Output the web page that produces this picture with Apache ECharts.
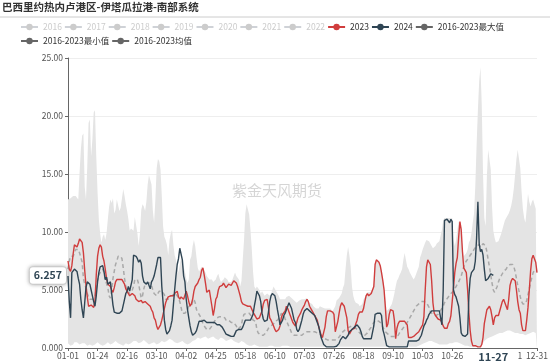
<!DOCTYPE html>
<html><head><meta charset="utf-8">
<script src="https://cdn.jsdelivr.net/npm/echarts@6/dist/echarts.min.js"></script>
<style>html,body{margin:0;padding:0;background:#fff}#c{width:550px;height:364px}</style>
</head><body><div id="c"></div>
<script>
// ---- data ----
const titleText = '巴西里约热内卢港区-伊塔瓜拉港-南部系统';
const watermarkText = '紫金天风期货';
const hiddenYears = ['2016','2017','2018','2019','2020','2021','2022'];
const name2023 = '2023', name2024 = '2024';
const nameMax = '2016-2023最大值', nameMin = '2016-2023最小值', nameMean = '2016-2023均值';
const latestDate = '11-27';
const yTicks = [0, 5, 10, 15, 20, 25];

const categories = [];
for (let i = 0; i < 366; i++) {
  const d = new Date(Date.UTC(2024, 0, 1 + i));
  categories.push(String(d.getUTCMonth() + 1).padStart(2, '0') + '-' + String(d.getUTCDate()).padStart(2, '0'));
}

const values2023 = [
7.5,6.8,6.6,7.1,8.1,8.9,8.9,8.7,9.0,9.4,
9.4,9.1,8.2,6.7,5.4,4.4,3.6,3.5,3.7,3.8,
3.5,4.1,6.3,7.9,8.6,8.9,8.7,7.9,7.5,6.8,
6.0,5.5,5.4,5.3,5.0,4.8,5.2,5.7,5.9,6.0,
5.9,5.9,5.9,5.7,5.5,5.1,4.9,4.7,4.5,4.5,
4.7,4.8,4.5,4.2,4.1,4.0,4.0,4.1,3.9,3.9,
4.0,3.9,3.8,3.7,3.6,3.3,3.1,2.6,2.4,1.9,
1.6,1.7,2.0,2.4,2.9,3.4,3.9,4.2,4.4,4.5,
4.5,4.6,4.5,4.7,4.8,4.9,4.4,4.2,4.4,4.3,
4.2,4.2,4.9,4.5,4.0,3.6,3.8,4.2,4.9,5.3,
5.3,5.6,5.9,6.1,6.7,6.9,6.3,5.6,4.8,4.9,
5.0,5.1,3.6,2.8,3.4,4.2,4.4,5.0,5.3,5.3,
5.4,5.6,5.5,5.2,5.1,5.5,5.5,5.4,5.5,5.8,
5.9,5.6,5.3,4.9,4.5,4.0,3.8,3.7,3.7,3.7,
3.6,3.6,3.6,3.5,3.1,2.9,2.7,2.5,2.5,2.6,
2.9,3.2,3.8,4.1,4.2,4.2,3.5,2.6,2.4,2.4,
1.9,1.6,1.4,1.3,1.6,1.9,2.6,2.9,3.0,3.2,
3.6,3.4,3.1,2.8,2.5,2.2,2.1,1.9,2.2,2.6,
2.8,3.0,3.3,3.5,3.7,4.0,4.2,4.0,3.6,3.4,
3.2,3.0,2.8,2.6,2.4,1.9,1.5,1.1,0.9,0.9,
1.8,2.7,3.2,3.2,3.2,3.2,3.1,2.9,1.4,1.3,
2.3,3.0,3.6,3.9,3.9,3.6,3.1,2.6,1.5,1.2,
1.3,1.6,1.6,1.7,2.1,2.4,2.9,3.1,3.2,3.1,
3.4,4.0,4.5,4.7,4.5,4.6,4.7,4.8,5.3,7.2,
7.6,7.5,7.4,7.1,6.5,5.8,5.0,3.5,1.8,2.1,
2.9,3.3,3.3,3.2,2.4,0.8,1.7,2.1,2.3,2.3,
2.3,2.3,2.3,2.2,2.0,0.9,0.9,0.9,0.9,1.0,
1.1,1.2,1.3,1.4,1.6,1.7,2.0,2.7,5.0,7.0,
7.6,7.5,7.2,5.8,3.9,3.0,2.8,2.7,2.5,2.4,
2.4,2.2,1.9,1.7,1.6,1.7,2.1,2.3,2.8,4.0,
5.2,6.5,7.3,7.8,9.5,10.9,10.2,8.3,6.9,7.0,
6.5,5.0,3.0,1.5,0.6,0.2,0.1,0.2,0.1,0.1,
0.2,0.1,0.3,0.9,2.1,2.7,3.3,3.4,3.6,3.3,
2.7,2.0,2.6,2.8,2.7,2.8,2.9,3.6,4.0,4.2,
4.1,3.6,3.3,4.2,5.4,5.8,6.0,6.1,5.8,5.0,
4.0,3.3,3.0,2.0,1.5,1.4,1.5,2.4,3.5,5.0,
6.6,7.7,8.0,7.9,7.4,6.5
];

const values2024 = [
6.2,4.0,2.6,6.5,6.5,6.8,6.9,6.6,6.0,5.5,
4.2,3.3,2.6,3.9,5.2,5.7,5.7,5.5,5.0,4.5,
4.0,3.6,4.5,5.7,6.5,7.0,7.0,7.1,6.6,5.9,
6.1,5.5,5.5,5.7,5.6,3.7,3.1,3.0,3.0,3.0,
3.0,3.0,3.2,3.3,4.2,4.7,4.9,5.3,4.9,5.0,
5.9,8.0,8.0,7.9,7.7,7.4,7.6,7.3,6.2,5.7,
5.7,5.5,5.7,5.6,5.1,5.7,5.9,6.2,6.7,7.2,
7.8,7.9,7.8,5.3,3.9,2.4,1.6,1.2,1.3,1.5,
1.9,2.4,3.7,5.0,6.2,7.2,7.7,8.6,8.5,7.6,
6.2,5.7,4.2,3.3,2.6,1.9,1.4,1.1,1.1,1.3,
1.5,1.9,2.3,2.3,2.3,2.3,2.4,2.4,2.2,2.3,
2.2,2.2,2.2,2.2,2.2,2.1,2.0,2.0,2.0,1.9,
1.8,1.6,1.4,1.2,1.2,1.1,1.0,1.0,1.0,1.0,
1.1,1.5,1.6,1.6,1.6,1.6,1.8,1.9,2.4,2.4,
2.4,2.4,2.4,2.4,2.9,3.6,4.2,4.9,4.7,4.5,
4.0,3.0,2.5,2.3,2.4,2.4,3.1,4.0,4.5,4.7,
4.7,4.5,4.0,3.3,2.7,2.0,2.1,2.4,2.8,3.0,
3.3,3.6,3.9,4.0,3.4,2.9,2.4,2.2,1.6,1.4,
1.6,2.0,2.4,2.9,3.2,3.3,3.4,3.4,3.2,3.1,
3.0,3.0,2.8,2.5,2.2,1.9,1.4,0.9,0.6,0.3,
0.15,0.1,0.1,0.1,0.1,0.1,0.1,0.1,0.1,0.15,
0.2,0.4,0.7,0.8,1.0,0.9,0.8,0.7,1.1,1.4,
1.5,1.6,1.6,1.8,1.9,2.0,1.9,1.7,1.4,1.0,
0.8,0.8,0.8,0.8,0.8,0.8,0.8,0.9,1.9,2.9,
3.0,3.0,3.0,3.0,2.8,1.6,1.2,0.7,0.2,0.1,
0.1,0.1,0.1,0.1,0.1,0.1,0.1,0.1,0.1,0.1,
0.1,0.1,0.1,0.1,0.1,0.6,0.6,0.6,0.6,0.6,
0.6,0.6,0.6,0.7,0.8,1.1,1.5,1.9,2.1,2.4,
2.6,2.9,3.0,3.2,3.2,3.2,3.2,3.2,3.2,3.2,
3.2,2.0,5.0,11.0,11.1,11.1,11.1,10.8,11.1,10.9,
5.0,4.6,4.4,4.0,3.6,2.6,1.3,1.1,1.1,1.0,
1.0,1.2,4.5,6.0,6.5,6.4,6.8,7.5,9.5,12.6,
9.0,8.3,8.5,8.0,6.8,5.8,5.9,6.0,6.2,6.4,
6.3,6.257
];

const valuesMax = [
12.8,12.9,12.9,13.0,13.1,13.1,13.1,13.0,12.8,15.1,
17.1,18.3,18.5,13.9,12.8,15.7,19.4,19.7,16.5,18.0,
20.3,20.5,16.5,13.4,11.1,9.9,9.1,9.6,9.8,9.3,
9.9,11.1,12.2,12.8,12.5,12.9,11.6,11.9,12.8,12.3,
11.8,12.1,12.9,13.7,13.1,12.4,11.8,11.1,10.1,10.3,
10.3,10.1,11.3,11.2,9.9,8.8,9.9,11.9,12.4,12.2,
11.8,12.6,14.1,14.9,15.0,14.1,11.9,10.8,12.8,15.5,
16.3,16.1,15.4,13.1,10.5,9.6,9.3,8.9,8.0,9.3,
9.9,10.2,8.9,8.0,7.6,7.0,6.5,7.2,7.8,7.3,
7.0,6.6,6.0,5.6,5.9,7.6,7.9,8.8,9.3,8.8,
7.8,6.9,6.6,6.5,7.0,7.0,6.7,6.5,6.2,6.2,
5.9,5.9,5.9,5.7,5.8,5.9,6.2,6.4,6.0,5.7,
5.7,5.9,6.1,6.0,5.9,5.7,5.6,5.7,5.9,6.2,
6.5,6.2,6.1,5.9,5.3,5.8,7.6,9.3,11.6,12.4,
12.4,11.5,10.2,8.6,6.6,5.3,5.1,5.3,5.3,5.0,
4.7,4.9,4.7,4.5,4.5,4.7,4.6,4.5,4.7,5.0,
5.3,5.2,4.9,4.7,4.5,4.2,4.2,4.2,4.2,4.2,
4.4,4.5,4.5,4.5,4.3,4.2,4.1,4.0,3.9,4.0,
4.1,4.2,4.2,4.2,4.2,4.2,4.3,4.2,3.9,3.9,
3.8,3.6,3.5,3.4,3.3,3.4,3.6,3.5,3.5,3.4,
3.4,3.4,3.4,3.4,3.4,3.4,3.2,3.2,3.6,4.1,
4.2,4.3,4.5,4.7,5.2,5.5,6.8,8.0,8.7,8.0,
7.0,5.3,4.5,4.1,3.9,3.9,3.8,3.6,3.6,3.8,
4.2,4.3,4.6,4.8,4.8,4.8,4.9,5.0,5.5,7.3,
7.6,7.6,7.5,7.1,6.6,5.9,5.3,4.2,3.2,3.2,
3.4,3.6,3.8,4.2,4.7,5.3,5.8,6.0,6.3,6.5,
6.8,7.6,8.2,8.2,7.0,6.8,6.5,6.4,6.1,5.9,
6.1,6.4,6.5,7.0,7.8,8.1,8.5,8.8,9.1,9.3,
9.3,9.2,9.1,8.8,8.6,8.5,8.8,9.0,9.1,9.2,
9.3,10.2,11.0,11.2,11.2,11.2,11.2,11.2,11.2,11.2,
9.3,8.8,9.3,10.1,10.9,11.0,10.4,8.6,7.9,8.0,
8.2,8.5,9.1,9.3,9.9,10.8,11.6,14.0,17.5,20.5,
23.0,24.2,21.0,15.0,11.2,10.5,14.8,17.1,17.2,15.4,
12.2,10.1,9.5,9.1,9.1,9.2,9.5,9.8,10.2,10.6,
11.0,11.2,11.4,11.6,11.9,12.3,12.9,13.8,15.0,16.3,
17.1,17.0,15.5,13.5,12.0,11.2,10.8,12.0,13.3,12.6,
12.2,12.6,12.8,12.4,12.0,11.9
];

const valuesMin = [
0.4,0.3,0.2,0.2,0.3,0.5,0.6,0.5,0.4,0.3,
0.3,0.4,0.5,0.4,0.3,0.2,0.2,0.3,0.3,0.2,
0.2,0.3,0.4,0.5,0.4,0.3,0.3,0.2,0.2,0.3,
0.4,0.5,0.4,0.3,0.3,0.4,0.5,0.6,0.5,0.4,
0.3,0.3,0.2,0.2,0.3,0.4,0.4,0.3,0.3,0.4,
0.5,0.6,0.7,0.6,0.5,0.4,0.4,0.5,0.6,0.7,
0.6,0.5,0.4,0.3,0.3,0.4,0.5,0.5,0.4,0.3,
0.3,0.4,0.5,0.6,0.6,0.5,0.5,0.6,0.7,0.8,
0.8,0.7,0.6,0.5,0.5,0.4,0.4,0.5,0.6,0.6,
0.5,0.4,0.4,0.3,0.3,0.4,0.5,0.6,0.7,0.7,
0.8,0.9,0.9,0.8,0.8,0.9,1.0,1.0,0.9,0.8,
0.8,0.9,1.0,1.0,0.9,0.8,0.7,0.7,0.8,0.9,
0.9,0.8,0.7,0.6,0.6,0.7,0.8,0.8,0.7,0.6,
0.5,0.5,0.4,0.4,0.5,0.6,0.6,0.5,0.4,0.3,
0.3,0.2,0.2,0.2,0.3,0.3,0.2,0.2,0.1,0.1,
0.1,0.1,0.1,0.1,0.1,0.1,0.1,0.2,0.2,0.2,
0.2,0.1,0.1,0.1,0.1,0.1,0.2,0.2,0.2,0.2,
0.2,0.2,0.2,0.1,0.1,0.1,0.1,0.1,0.1,0.1,
0.1,0.1,0.1,0.1,0.1,0.1,0.1,0.1,0.1,0.1,
0.1,0.1,0.1,0.1,0.1,0.1,0.1,0.1,0.1,0.1,
0.1,0.1,0.1,0.1,0.1,0.1,0.1,0.1,0.1,0.1,
0.1,0.1,0.1,0.1,0.1,0.1,0.1,0.1,0.1,0.1,
0.1,0.1,0.1,0.1,0.1,0.1,0.1,0.1,0.1,0.1,
0.1,0.1,0.1,0.1,0.1,0.1,0.1,0.1,0.1,0.1,
0.1,0.1,0.1,0.1,0.1,0.1,0.1,0.1,0.1,0.1,
0.1,0.1,0.1,0.1,0.1,0.1,0.1,0.1,0.1,0.1,
0.1,0.1,0.1,0.1,0.1,0.1,0.1,0.1,0.1,0.1,
0.1,0.1,0.2,0.2,0.3,0.3,0.4,0.4,0.5,0.5,
0.5,0.6,0.6,0.6,0.5,0.5,0.4,0.4,0.4,0.3,
0.3,0.3,0.3,0.3,0.3,0.3,0.3,0.4,0.4,0.4,
0.4,0.5,0.5,0.5,0.5,0.4,0.4,0.3,0.3,0.2,
0.2,0.2,0.1,0.1,0.1,0.1,0.1,0.1,0.1,0.1,
0.1,0.1,0.2,0.4,0.6,0.7,0.8,0.8,0.9,0.9,
1.0,1.0,1.1,1.1,1.2,1.2,1.3,1.3,1.3,1.4,
1.4,1.4,1.5,1.5,1.5,1.5,1.4,1.4,1.3,1.3,
1.3,1.3,1.2,1.2,1.2,1.1,1.1,1.1,1.2,1.2,
1.3,1.3,1.4,1.4,1.3,1.3
];

const valuesMean = [
6.8,7.5,7.9,7.9,7.9,8.2,8.5,8.5,8.5,8.2,
7.8,7.4,6.0,5.5,5.2,4.7,4.4,4.2,4.2,4.2,
4.2,4.4,5.2,5.9,6.3,6.5,6.6,6.8,6.5,5.9,
5.9,5.2,4.5,4.3,5.0,6.0,6.6,7.2,7.5,7.9,
7.9,7.9,7.7,6.9,6.0,5.3,5.0,4.7,4.7,4.8,
5.0,5.3,5.9,5.9,5.9,5.5,4.9,4.3,4.5,5.1,
5.5,5.6,5.6,5.6,5.6,5.4,5.0,4.7,4.6,4.5,
4.7,4.9,5.0,4.9,4.8,4.6,4.2,4.2,4.2,4.5,
4.5,4.5,4.5,4.7,4.6,4.5,4.4,4.0,3.5,3.0,
3.0,3.0,2.9,3.3,3.6,3.6,3.6,4.0,4.2,3.9,
3.3,3.1,2.9,2.7,2.5,2.1,1.9,1.8,1.6,1.6,
1.6,1.6,1.9,2.1,2.3,2.4,2.6,2.6,2.7,2.7,
2.7,2.7,2.6,2.4,2.4,2.4,2.3,2.2,2.2,2.2,
2.1,1.9,1.6,1.6,1.8,2.0,2.6,2.9,3.0,3.0,
3.0,3.0,2.9,2.7,2.4,2.4,2.3,1.6,1.3,1.2,
1.1,1.1,1.1,1.1,1.3,1.5,1.7,1.8,1.9,2.0,
2.1,2.3,2.4,2.4,2.4,2.7,3.0,3.0,2.8,2.5,
2.4,2.1,1.8,1.6,1.3,1.2,1.1,1.1,1.1,1.1,
1.1,1.1,1.1,1.2,1.3,1.4,1.4,1.4,1.4,1.4,
1.4,1.4,1.4,1.4,1.3,1.3,1.2,1.1,1.0,0.9,
0.8,0.7,0.7,0.7,0.7,0.7,0.7,0.7,0.7,0.8,
0.8,0.9,1.1,1.3,1.4,1.5,1.6,1.7,1.7,1.8,
1.8,1.9,1.9,1.8,1.7,1.6,1.5,1.3,1.3,1.1,
1.0,1.1,1.2,1.3,1.5,1.6,1.8,2.0,2.2,2.3,
2.4,2.4,2.3,2.2,2.1,1.8,1.6,1.4,1.3,1.2,
1.1,1.0,1.0,1.0,1.0,1.0,1.0,1.1,1.3,1.4,
1.6,1.7,1.9,2.0,2.2,2.4,2.6,2.8,3.0,3.2,
3.4,3.6,3.7,3.8,3.9,4.0,4.0,4.0,4.0,3.9,
3.8,3.5,3.1,3.0,2.9,2.8,2.8,2.8,2.9,3.1,
3.2,3.4,3.6,3.9,4.1,4.2,4.4,4.5,4.7,4.8,
4.9,5.1,5.3,5.5,5.7,5.8,6.2,6.6,7.0,7.3,
7.5,7.6,7.8,8.0,8.1,8.3,8.5,8.6,8.8,8.9,
8.9,8.7,8.8,9.0,9.0,8.8,8.3,7.6,7.0,6.3,
5.6,5.0,4.8,4.9,5.3,5.7,6.0,6.2,6.4,6.6,
6.7,6.8,7.0,7.1,7.2,7.2,7.2,7.0,6.6,6.0,
5.4,4.9,4.4,4.0,3.8,3.8,3.8,4.1,4.6,5.1,
5.6,6.1,6.5,6.7,6.7,6.6
];

// ---- chart ----
const latestIndex = categories.indexOf(latestDate);
const latestValue = values2024[values2024.length - 1];
const FONT = "'Noto Sans CJK SC', 'Noto Sans', sans-serif";
const RED = '#d03d3d', NAVY = '#2f4554', DARK = '#666';

const legendData = hiddenYears.map(n => ({ name: n }))
  .concat([
    { name: name2023 },
    { name: name2024 },
    { name: nameMax, itemStyle: { color: DARK }, lineStyle: { color: DARK, width: 2, opacity: 1, type: 'solid' } },
    { name: nameMin, itemStyle: { color: DARK }, lineStyle: { color: DARK, width: 2, opacity: 1, type: 'solid' } },
    { name: nameMean, itemStyle: { color: DARK }, lineStyle: { color: DARK, width: 2, opacity: 1, type: 'solid' } }
  ]);
const selected = {};
hiddenYears.forEach(n => { selected[n] = false; });

const hiddenSeries = hiddenYears.map(n => ({
  name: n, type: 'line', data: [], symbol: 'circle', showSymbol: false,
  itemStyle: { color: '#999' }, lineStyle: { width: 1.5 }
}));

const chart = echarts.init(document.getElementById('c'), null, { renderer: 'canvas' });
chart.setOption({
  animation: false,
  textStyle: { fontFamily: FONT },
  title: {
    text: titleText, left: 2, top: 2, padding: 0,
    textStyle: { fontSize: 10.5, fontWeight: 'bold', color: '#333', fontFamily: FONT }
  },
  legend: {
    left: 15, top: 16, padding: 5,
    itemWidth: 17, itemHeight: 8, itemGap: 2,
    textStyle: { fontSize: 8.5, lineHeight: 12, color: '#333', fontFamily: FONT },
    inactiveColor: '#ccc',
    data: legendData, selected: selected
  },
  grid: { left: 68, right: 13, top: 58, bottom: 16, containLabel: false, outerBoundsMode: 'none' },
  xAxis: {
    type: 'category', data: categories, boundaryGap: false,
    axisLine: { lineStyle: { color: DARK } },
    axisTick: { interval: 22, length: 3, lineStyle: { color: DARK } },
    axisLabel: { interval: 22, showMaxLabel: true, fontSize: 8.5, color: '#555', margin: 4, fontFamily: FONT },
    splitLine: { show: false },
    axisPointer: {
      show: true, type: 'none', status: 'show', value: latestIndex, triggerTooltip: false,
      label: {
        show: true, formatter: () => latestDate,
        backgroundColor: '#fff', color: NAVY, fontWeight: 'bold', fontSize: 11,
        padding: [2, 10], margin: 2, fontFamily: FONT
      }
    }
  },
  yAxis: {
    type: 'value', min: yTicks[0], max: yTicks[yTicks.length - 1], interval: yTicks[1] - yTicks[0],
    axisLine: { show: true, lineStyle: { color: DARK } },
    axisTick: { show: true, length: 3, lineStyle: { color: DARK } },
    axisLabel: { fontSize: 8.5, color: '#555', margin: 5, formatter: v => Number(v).toPrecision(4), fontFamily: FONT },
    splitLine: { lineStyle: { color: '#eee' } },
    axisPointer: {
      show: true, type: 'none', status: 'show', value: latestValue, triggerTooltip: false,
      label: {
        show: true, formatter: () => latestValue.toFixed(3),
        backgroundColor: '#fff', color: NAVY, fontWeight: 'bold', fontSize: 10.5,
        padding: [3, 4], margin: 2, borderColor: '#ddd', borderWidth: 1,
        shadowBlur: 4, shadowColor: 'rgba(0,0,0,0.25)', fontFamily: FONT
      }
    }
  },
  graphic: [
    { type: 'line', shape: { x1: 0, y1: 17, x2: 550, y2: 17 }, style: { stroke: '#ccc', lineWidth: 1 }, silent: true },
    { type: 'text', x: 277, y: 190, z: 100, silent: true,
      style: { text: watermarkText, fontSize: 15, fontFamily: FONT, fill: 'rgba(150,150,150,0.4)',
               align: 'center', verticalAlign: 'middle', textAlign: 'center', textVerticalAlign: 'middle' } }
  ],
  series: hiddenSeries.concat([
    { name: nameMax, type: 'line', data: valuesMax, symbol: 'circle', showSymbol: false, silent: true,
      itemStyle: { color: DARK }, lineStyle: { width: 0, opacity: 0 },
      areaStyle: { color: '#e4e4e4', opacity: 1 }, emphasis: { disabled: true } },
    { name: nameMin, type: 'line', data: valuesMin, symbol: 'circle', showSymbol: false, silent: true,
      itemStyle: { color: DARK }, lineStyle: { width: 0, opacity: 0 },
      areaStyle: { color: '#ffffff', opacity: 1 }, emphasis: { disabled: true } },
    { name: nameMean, type: 'line', data: valuesMean, symbol: 'circle', showSymbol: false, silent: true,
      itemStyle: { color: DARK }, lineStyle: { color: '#a9a9a9', width: 1.5, type: [4, 3] } },
    { name: name2023, type: 'line', data: values2023, symbol: 'circle', showSymbol: false,
      itemStyle: { color: RED }, lineStyle: { color: RED, width: 1.4 } },
    { name: name2024, type: 'line', data: values2024, symbol: 'circle', showSymbol: false,
      itemStyle: { color: NAVY }, lineStyle: { color: NAVY, width: 1.4 } }
  ])
});
</script></body></html>
